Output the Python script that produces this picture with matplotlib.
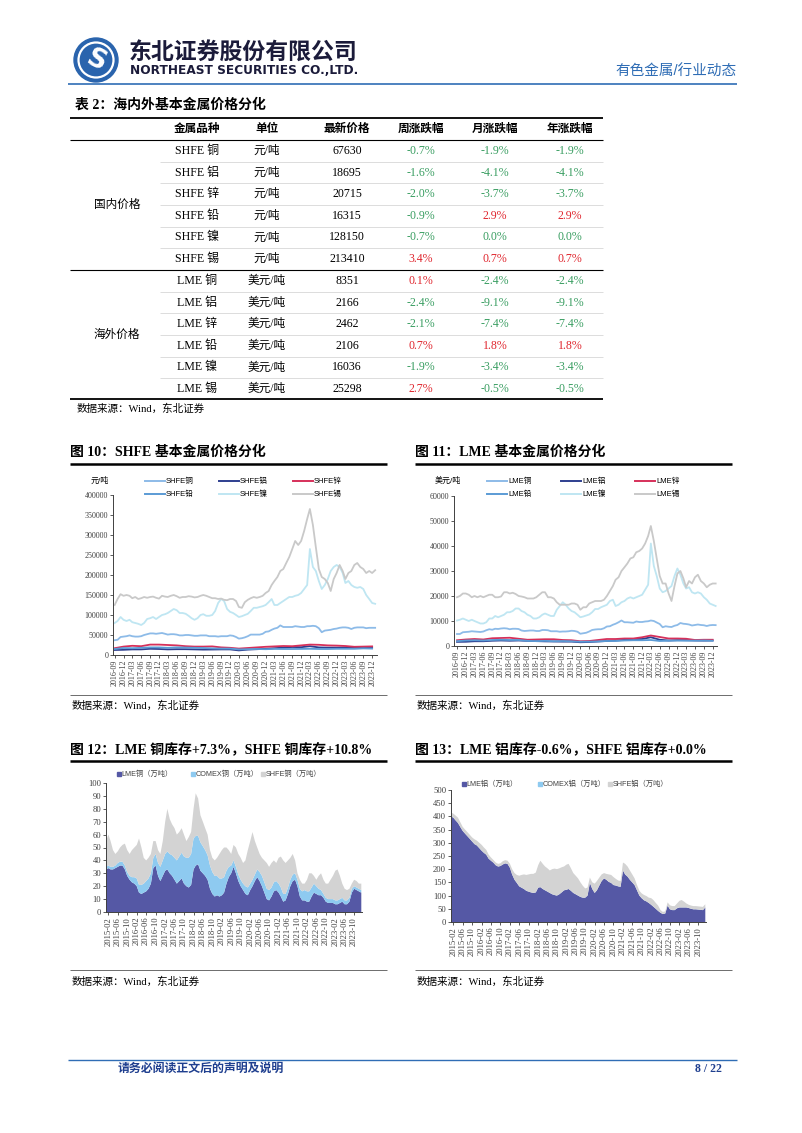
import matplotlib
matplotlib.use('Agg')
import matplotlib.pyplot as plt
from matplotlib.patches import Circle
import pandas as pd

W, H = 802, 1133
SERIF = ['Liberation Serif', 'Noto Sans CJK SC']
SANS = ['Liberation Sans', 'Noto Sans CJK SC']
plt.rcParams['font.family'] = SERIF

# ---------------- table data ----------------
metal_dom = ['SHFE 铜', 'SHFE 铝', 'SHFE 锌', 'SHFE 铅', 'SHFE 镍', 'SHFE 锡']
metal_ovs = ['LME 铜', 'LME 铝', 'LME 锌', 'LME 铅', 'LME 镍', 'LME 锡']
unit_dom = '元/吨'
unit_ovs = '美元/吨'
price_dom = [67630, 18695, 20715, 16315, 128150, 213410]
wk_dom = [-0.7, -1.6, -2.0, -0.9, -0.7, 3.4]
mo_dom = [-1.9, -4.1, -3.7, 2.9, 0.0, 0.7]
yr_dom = [-1.9, -4.1, -3.7, 2.9, 0.0, 0.7]
price_ovs = [8351, 2166, 2462, 2106, 16036, 25298]
wk_ovs = [0.1, -2.4, -2.1, 0.7, -1.9, 2.7]
mo_ovs = [-2.4, -9.1, -7.4, 1.8, -3.4, -0.5]
yr_ovs = [-2.4, -9.1, -7.4, 1.8, -3.4, -0.5]
headers = ['金属品种', '单位', '最新价格', '周涨跌幅', '月涨跌幅', '年涨跌幅']

# ---------------- price charts (monthly from 2016-09, quarterly for low series) ----------------
shfe_tin = [125000, 140000, 152000, 148000,
            150000, 148000, 142000, 145000, 140000, 142000, 145000, 143000, 145000, 146000, 143000, 141000,
            148000, 146000, 145000, 148000, 150000, 147000, 143000, 145000, 145000, 147000, 146000, 144000,
            145000, 148000, 150000, 148000, 145000, 142000, 142000, 140000, 141000, 138000, 137000, 140000,
            140000, 135000, 120000, 118000, 132000, 138000, 142000, 145000, 143000, 145000, 148000, 155000,
            160000, 175000, 185000, 195000, 210000, 215000, 230000, 245000, 265000, 285000, 275000, 285000,
            310000, 340000, 365000, 325000, 270000, 215000, 195000, 190000, 180000, 160000, 190000, 205000,
            225000, 210000, 190000, 205000, 210000, 225000, 230000, 220000, 215000, 205000, 210000, 205000,
            212000]
shfe_ni = [80000, 85000, 95000, 88000,
           85000, 88000, 82000, 80000, 78000, 75000, 80000, 90000, 92000, 95000, 90000, 95000,
           100000, 102000, 105000, 110000, 115000, 112000, 105000, 105000, 103000, 98000, 92000, 88000,
           92000, 100000, 102000, 98000, 98000, 100000, 110000, 130000, 140000, 135000, 115000, 108000,
           105000, 100000, 95000, 97000, 100000, 103000, 110000, 118000, 118000, 120000, 122000, 125000,
           132000, 140000, 125000, 125000, 130000, 135000, 140000, 145000, 145000, 148000, 150000, 155000,
           165000, 175000, 265000, 220000, 210000, 185000, 165000, 175000, 190000, 210000, 220000, 225000,
           220000, 205000, 180000, 185000, 175000, 170000, 168000, 170000, 165000, 150000, 140000, 130000,
           128000]
shfe_cu = [37000, 38000, 45000, 46000,
           47000, 49000, 47000, 46000, 46000, 47000, 50000, 52000, 54000, 54000, 53000, 54000,
           55000, 53000, 51000, 52000, 52000, 51000, 49000, 49000, 50000, 50000, 49000, 48000,
           48000, 49000, 49000, 49000, 47000, 47000, 47000, 46000, 47000, 47000, 47000, 49000,
           48000, 45000, 41000, 42000, 44000, 47000, 51000, 51000, 51000, 51000, 53000, 58000,
           59000, 63000, 66000, 68000, 74000, 70000, 70000, 70000, 70000, 72000, 71000, 70000,
           70000, 72000, 72000, 73000, 72000, 67000, 57000, 61000, 62000, 63000, 65000, 66000,
           68000, 69000, 69000, 68000, 65000, 68000, 69000, 69000, 69000, 67000, 68000, 68000,
           68000]
shfe_zn = [17000, 21000, 23000, 22000, 26000, 26000, 25000, 24000, 22000, 21000, 21000, 21500,
           19000, 18000, 16000, 17500, 19000, 20500, 21500, 22500, 22000, 24000, 26000, 25500,
           24000, 23500, 22500, 20500, 21000, 21500]
shfe_al = [12500, 13000, 14000, 14000, 15500, 15000, 14000, 14500, 14500, 14000, 13500, 13700,
           14000, 14000, 11500, 13500, 14500, 15500, 17000, 18500, 20000, 19500, 22000, 19000,
           18500, 18500, 18800, 18500, 19200, 19000]
shfe_pb = [15000, 17500, 17000, 18000, 19000, 19000, 18000, 19000, 18500, 18000, 17500, 16500,
           16000, 16000, 14000, 14500, 15000, 14500, 15200, 15000, 15000, 15200, 15500, 15000,
           15000, 15500, 15500, 15500, 16500, 16000]

lme_tin = [19500, 20000, 21000, 21000,
           20500, 19500, 20000, 19500, 20000, 19500, 20000, 20500, 20500, 19500, 19500, 19800,
           21500, 21500, 21000, 21300, 20800, 20000, 19800, 19500, 19000, 19000, 19000, 19500,
           20500, 21500, 21500, 19500, 19500, 19000, 17500, 16500, 16500, 16500, 16500, 17000,
           17000, 16500, 14500, 15500, 15500, 17000, 17500, 18000, 18000, 18000, 18500, 20000,
           22000, 24000, 26500, 27500, 30000, 31500, 33000, 35000, 35500, 37500, 38000, 39000,
           41000, 44000, 48000, 42000, 35000, 28000, 25000, 25000, 21000, 18000, 24000, 29000,
           30000, 27000, 23500, 26000, 25000, 27500, 28500, 26000, 25000, 23500, 24500, 25000,
           25000]
lme_ni = [10200, 10500, 11000, 10500,
          10000, 10500, 10000, 9500, 9000, 9000, 9500, 11000, 11000, 12000, 11500, 12000,
          12500, 13500, 13500, 14000, 15000, 15000, 14000, 13500, 12500, 12000, 11000, 11000,
          11500, 12500, 13000, 12500, 12000, 12000, 14500, 16000, 17500, 16500, 15000, 14000,
          13500, 12500, 11500, 11800, 12200, 12600, 13500, 14800, 14800, 15500, 16000, 16500,
          18000, 18500, 16000, 16500, 17500, 18000, 19000, 19500, 19000, 19500, 20000, 20500,
          22500, 24500, 41000, 32000, 28000, 23000, 21500, 22000, 23000, 24000, 28000, 31000,
          28500, 25000, 23000, 23500, 21500, 21000, 21500, 21000, 19500, 18500, 17000, 16500,
          16000]
lme_cu = [4800, 4800, 5500, 5600,
          5700, 5900, 5800, 5700, 5600, 5800, 6300, 6700, 6500, 6900, 6800, 7000,
          7100, 7000, 6700, 6900, 6900, 6800, 6200, 6000, 6100, 6200, 6200, 6000,
          6000, 6400, 6400, 6300, 5900, 5900, 5900, 5700, 5800, 5800, 5900, 6100,
          6000, 5700, 4900, 5100, 5300, 5800, 6400, 6600, 6700, 6700, 7100, 7800,
          7900, 8500, 8900, 9500, 10200, 9500, 9500, 9400, 9300, 9800, 9600, 9600,
          9800, 9900, 10200, 10000, 9400, 8800, 7500, 7900, 7700, 7600, 8100, 8400,
          9200, 8900, 8800, 8600, 8200, 8400, 8600, 8400, 8300, 8000, 8300, 8400,
          8350]
lme_zn = [2300, 2600, 2800, 2600, 3100, 3200, 3300, 2900, 2500, 2600, 2700, 2700,
          2400, 2300, 1900, 2000, 2400, 2800, 2800, 3000, 3000, 3500, 4200, 3600,
          3000, 3000, 2900, 2400, 2500, 2500]
lme_al = [1650, 1700, 1900, 1900, 2100, 2200, 2100, 2200, 2050, 1950, 1850, 1800,
          1750, 1750, 1500, 1600, 1800, 2000, 2200, 2450, 2800, 2800, 3500, 2500,
          2200, 2350, 2350, 2200, 2150, 2200]
lme_pb = [1950, 2200, 2300, 2200, 2400, 2500, 2400, 2400, 2050, 1950, 2050, 1900,
          2000, 1900, 1700, 1750, 1850, 2000, 2000, 2200, 2300, 2300, 2400, 2000,
          2100, 2150, 2100, 2150, 2200, 2100]

# ---------------- inventories (monthly from 2015-01, 万吨) ----------------
cu_lme = [33, 34, 33, 33, 34, 35, 36, 36, 33, 28, 25, 23,
          22, 20, 15, 14, 15, 16, 18, 22, 34, 36, 28, 24,
          28, 32, 33, 30, 28, 25, 22, 24, 26, 22, 20, 19,
          21, 33, 36, 37, 32, 30, 28, 25, 18, 14, 12, 13,
          12, 13, 15, 22, 27, 30, 35, 30, 24, 20, 17, 14,
          13, 17, 20, 24, 27, 24, 20, 15, 10, 9, 12, 16,
          17, 15, 12, 8, 9, 14, 20, 24, 25, 20, 12, 9,
          9, 8, 8, 12, 15, 14, 13, 13, 11, 8, 7, 7,
          7, 6, 6, 7, 8, 6, 6, 8, 15, 18, 17, 16,
          15]
cu_comex = [2, 2, 2, 2, 2, 3, 3, 3, 3, 3, 3, 4,
            5, 6, 6, 7, 7, 8, 8, 8, 8, 9, 10, 11,
            12, 13, 14, 15, 16, 17, 18, 19, 20, 21, 22, 23,
            24, 24, 23, 22, 22, 21, 20, 19, 18, 17, 16, 15,
            14, 13, 12, 10, 8, 6, 5, 5, 5, 5, 5, 6,
            6, 5, 5, 5, 6, 7, 8, 8, 8, 8, 7, 7,
            7, 7, 7, 6, 5, 5, 5, 5, 5, 5, 6, 7,
            8, 8, 8, 7, 7, 6, 5, 4, 3, 3, 3, 3,
            3, 3, 3, 3, 3, 3, 3, 3, 3, 2, 2, 2,
            2]
cu_shfe = [20, 24, 20, 13, 9, 9, 11, 13, 17, 17, 17, 21,
           23, 26, 36, 29, 20, 16, 16, 15, 13, 10, 10, 10,
           15, 25, 33, 27, 24, 23, 20, 19, 19, 17, 13, 16,
           17, 23, 33, 29, 21, 19, 17, 16, 12, 11, 12, 14,
           19, 22, 23, 18, 13, 9, 12, 15, 16, 17, 16, 20,
           29, 33, 37, 26, 17, 14, 14, 17, 20, 18, 19, 17,
           14, 20, 24, 26, 24, 21, 17, 16, 10, 5, 7, 6,
           5, 9, 14, 11, 6, 5, 10, 13, 11, 11, 12, 15,
           18, 23, 24, 18, 11, 9, 8, 7, 4, 5, 5, 4,
           5]

al_lme = [400, 395, 385, 375, 360, 345, 335, 325, 315, 305, 295, 290,
          280, 270, 262, 255, 240, 232, 225, 215, 210, 212, 218, 222,
          220, 205, 180, 160, 148, 135, 130, 125, 118, 115, 112, 110,
          112, 130, 132, 125, 120, 115, 110, 105, 102, 100, 105, 112,
          120, 122, 125, 118, 110, 105, 100, 95, 92, 92, 100, 148,
          125, 110, 120, 138, 155, 165, 160, 152, 148, 140, 138, 135,
          133, 195, 180, 172, 160, 150, 140, 120, 100, 90, 82, 78,
          72, 65, 58, 50, 42, 35, 30, 32, 62, 48, 45, 45,
          52, 55, 55, 55, 55, 53, 50, 48, 48, 47, 46, 45,
          55]
al_comex = [0.3, 0.3, 0.3, 0.3, 0.3, 0.3, 0.3, 0.3, 0.3, 0.3, 0.3, 0.3,
            0.3, 0.3, 0.3, 0.3, 0.3, 0.3, 0.3, 0.3, 0.3, 0.3, 0.3, 0.3,
            0.3, 0.3, 0.3, 0.3, 0.3, 0.3, 0.3, 0.3, 0.3, 0.3, 0.3, 0.3,
            0.3, 0.3, 0.3, 0.3, 0.3, 0.3, 0.3, 0.3, 0.3, 0.3, 0.3, 0.3,
            0.3, 0.3, 0.3, 0.3, 0.3, 0.3, 0.3, 0.3, 0.3, 0.3, 0.3, 0.3,
            0.3, 0.3, 0.3, 0.3, 0.3, 0.3, 0.3, 0.3, 0.3, 0.3, 0.3, 0.3,
            0.3, 0.3, 0.3, 0.3, 0.3, 0.3, 0.3, 0.3, 0.3, 0.3, 0.3, 0.3,
            0.3, 0.3, 0.3, 0.3, 0.3, 0.3, 0.3, 0.3, 0.3, 0.3, 0.3, 0.3,
            0.3, 0.3, 0.3, 0.3, 0.3, 0.3, 0.3, 0.3, 0.3, 0.3, 0.3, 0.3,
            0.3]
al_shfe = [15, 15, 18, 20, 18, 15, 15, 15, 15, 15, 18, 18,
           20, 22, 20, 18, 15, 12, 10, 10, 10, 10, 12, 12,
           12, 15, 20, 25, 30, 40, 48, 55, 60, 65, 70, 72,
           75, 85, 100, 95, 90, 88, 85, 95, 100, 100, 98, 95,
           90, 95, 95, 85, 75, 70, 65, 55, 45, 35, 30, 20,
           25, 35, 35, 30, 25, 20, 22, 28, 30, 30, 25, 22,
           22, 30, 40, 38, 35, 30, 25, 20, 18, 18, 20, 20,
           20, 25, 25, 22, 20, 10, 8, 8, 12, 15, 15, 15,
           18, 25, 28, 22, 15, 12, 12, 12, 12, 12, 12, 12,
           12]

# ---------------- colours ----------------
C_CU, C_AL, C_ZN, C_PB, C_NI, C_SN = '#8dbbe8', '#2e3f8f', '#d6305a', '#5b9bd5', '#bfe6f2', '#c9c9c9'
INV = ['#5558a5', '#8ecaf0', '#d3d3d3']
BLUE = '#2f6db5'
GREEN, RED = '#3a9e62', '#e0262e'

fig = plt.figure(figsize=(W / 100, H / 100), dpi=100)
page = fig.add_axes([0, 0, 1, 1])
page.set_xlim(0, W)
page.set_ylim(H, 0)
page.axis('off')


def hline(x0, x1, y, lw=0.8, color='black'):
    page.plot([x0, x1], [y, y], color=color, lw=lw, solid_capstyle='butt')


def txt(x, y, s, size=8, ha='left', color='black', weight='normal', family=SERIF):
    page.text(x, y, s, fontsize=size, ha=ha, va='center', color=color,
              fontweight=weight, family=family)


def panel(x0, y0, x1, y1):
    return fig.add_axes([x0 / W, 1 - y1 / H, (x1 - x0) / W, (y1 - y0) / H])


def style(ax, size, fam):
    for s in ['top', 'right']:
        ax.spines[s].set_visible(False)
    for s in ['left', 'bottom']:
        ax.spines[s].set_color('#404040')
        ax.spines[s].set_linewidth(0.7)
    ax.tick_params(direction='out', length=2, width=0.6, pad=1.5, labelsize=size, colors='#404040')
    for lab in ax.get_xticklabels() + ax.get_yticklabels():
        lab.set_family(fam)
    ax.patch.set_alpha(0)


# ---------------- header ----------------
page.add_patch(Circle((96, 60), 22, color='#2a64ad'))
page.add_patch(Circle((96, 60), 17.5, fill=False, ec='white', lw=1.6))
page.text(96, 61, 'S', fontsize=19, color='white', ha='center', va='center',
          fontweight='bold', family='DejaVu Sans', rotation=-25)
txt(129, 52, '东北证券股份有限公司', 16.5, color='#1b1b3a', weight='bold', family=SANS)
txt(130, 71, 'NORTHEAST SECURITIES CO.,LTD.', 8.75, color='#1b1b3a', weight='bold', family='DejaVu Sans')
txt(737, 72, '有色金属/行业动态', 10.5, ha='right', color=BLUE, family=SANS)
hline(68, 737, 84, lw=1.2, color=BLUE)

# ---------------- table ----------------
txt(75, 105, '表 2：海内外基本金属价格分化', 10, weight='bold')
hline(70, 603, 118, lw=1.3)
col_x = [197, 267, 347, 421, 495, 570]
for x, h in zip(col_x, headers):
    txt(x, 129, h, 8.4, ha='center', weight='bold')
hline(70, 603, 140, lw=0.8)


def pct(v):
    return f'{v:.1f}%', (RED if v > 0 else GREEN)


def group(y0, label, metals, unit, prices, wk, mo, yr):
    ys = [y0 + 21.6 * i for i in range(6)]
    for i, y in enumerate(ys):
        txt(col_x[0], y, metals[i], 8.6, ha='center')
        txt(col_x[1], y, unit, 8.4, ha='center')
        txt(col_x[2], y, str(prices[i]), 8.6, ha='center')
        for x, v in zip(col_x[3:], [wk[i], mo[i], yr[i]]):
            s, c = pct(v)
            txt(x, y, s, 8.6, ha='center', color=c)
        if i < 5:
            hline(160, 603, y + 10.8, lw=0.5, color='#cfcfcf')
    txt(117, (ys[0] + ys[-1]) / 2, label, 8.4, ha='center')


group(151, '国内价格', metal_dom, unit_dom, price_dom, wk_dom, mo_dom, yr_dom)
hline(70, 603, 269.5, lw=0.8)
group(281, '海外价格', metal_ovs, unit_ovs, price_ovs, wk_ovs, mo_ovs, yr_ovs)
hline(70, 603, 399, lw=1.3)
txt(77, 409, '数据来源：Wind，东北证券', 7.6)

# ---------------- price charts ----------------
m_dates = pd.date_range('2016-09-01', periods=89, freq='MS')
q_dates = pd.date_range('2016-09-01', periods=30, freq='3MS')
q_ticks = pd.date_range('2016-09-01', '2023-12-01', freq='3MS')


def price_chart(box, ylim, step, series, names, ylab, ylab_x, leg_x0):
    ax = panel(*box)
    for d, v, c in series:
        ax.plot(d, v, color=c, lw=1.3)
    ax.set_ylim(0, ylim)
    ax.set_yticks(range(0, ylim + 1, step))
    ax.set_xticks(q_ticks)
    ax.set_xticklabels([d.strftime('%Y-%m') for d in q_ticks], rotation=90)
    style(ax, 5.8, SERIF)
    txt(ylab_x, 481, ylab, 5.8, ha='center', family=SANS)
    cols = [s[2] for s in series]
    for i, (n, c) in enumerate(zip(names, cols)):
        x = leg_x0 + 74 * (i % 3)
        y = 481 + 13 * (i // 3)
        page.plot([x, x + 20], [y, y], color=c, lw=1.4)
        txt(x + 21, y, n, 5.5, family=SANS)
    return ax


ax10 = price_chart((113, 495, 377, 655), 400000, 50000,
                   [(m_dates, shfe_cu, C_CU), (q_dates, shfe_al, C_AL), (q_dates, shfe_zn, C_ZN),
                    (q_dates, shfe_pb, C_PB), (m_dates, shfe_ni, C_NI), (m_dates, shfe_tin, C_SN)],
                   ['SHFE铜', 'SHFE铝', 'SHFE锌', 'SHFE铅', 'SHFE镍', 'SHFE锡'], '元/吨', 100, 145)
ax10.set_xlim(pd.Timestamp('2016-08-15'), pd.Timestamp('2024-01-20'))

ax11 = price_chart((454, 496, 717, 646), 60000, 10000,
                   [(m_dates, lme_cu, C_CU), (q_dates, lme_al, C_AL), (q_dates, lme_zn, C_ZN),
                    (q_dates, lme_pb, C_PB), (m_dates, lme_ni, C_NI), (m_dates, lme_tin, C_SN)],
                   ['LME铜', 'LME铝', 'LME锌', 'LME铅', 'LME镍', 'LME锡'], '美元/吨', 448, 487)
ax11.set_xlim(pd.Timestamp('2016-08-01'), pd.Timestamp('2024-01-15'))

for x0, x1, title in [(70, 387, '图 10：SHFE 基本金属价格分化'), (415, 732, '图 11：LME 基本金属价格分化')]:
    txt(x0, 452, title, 10, weight='bold')
    hline(x0, x1, 464, lw=1.8)
    hline(x0, x1, 695, lw=0.6, color='#555555')
    txt(x0 + 2, 706, '数据来源：Wind，东北证券', 7.6)

# ---------------- inventory charts ----------------
inv_dates = pd.date_range('2015-01-01', periods=109, freq='MS')
inv_ticks = pd.date_range('2015-02-01', '2023-10-01', freq='4MS')


def inv_chart(box, ylim, step, layers, names, leg, leg_y):
    ax = panel(*box)
    ax.stackplot(inv_dates, *layers, colors=INV, lw=0)
    ax.set_ylim(0, ylim)
    ax.set_yticks(range(0, ylim + 1, step))
    ax.set_xticks(inv_ticks)
    ax.set_xticklabels([d.strftime('%Y-%m') for d in inv_ticks], rotation=90)
    ax.set_xlim(pd.Timestamp('2015-01-01'), pd.Timestamp('2024-01-10'))
    style(ax, 6.2, SERIF)
    for x, n, c in zip(leg, names, INV):
        page.plot(x, leg_y, marker='s', ms=2.6, color=c, ls='none')
        txt(x + 2.5, leg_y, n, 5.2, family=SANS, color='#404040')
    return ax


inv_chart((106, 783, 362, 912), 100, 10, [cu_lme, cu_comex, cu_shfe],
          ['LME铜（万吨）', 'COMEX铜（万吨）', 'SHFE铜（万吨）'], [119, 193, 263], 774)
inv_chart((451, 790, 706, 922), 500, 50, [al_lme, al_comex, al_shfe],
          ['LME铝（万吨）', 'COMEX铝（万吨）', 'SHFE铝（万吨）'], [464, 540, 610], 784)

for x0, x1, title in [(70, 387, '图 12：LME 铜库存+7.3%，SHFE 铜库存+10.8%'),
                      (415, 732, '图 13：LME 铝库存-0.6%，SHFE 铝库存+0.0%')]:
    txt(x0, 749, title, 10, weight='bold')
    hline(x0, x1, 761, lw=1.8)
    hline(x0, x1, 970, lw=0.6, color='#555555')
    txt(x0 + 2, 982, '数据来源：Wind，东北证券', 7.6)

# ---------------- footer ----------------
hline(68, 737, 1060, lw=1.0, color=BLUE)
txt(118, 1069, '请务必阅读正文后的声明及说明', 8.6, color='#1f3f8f', weight='bold', family=SANS)
txt(722, 1069, '8 / 22', 8.5, ha='right', color='#1f3f8f', weight='bold')

fig.savefig('out.png', dpi=100)
